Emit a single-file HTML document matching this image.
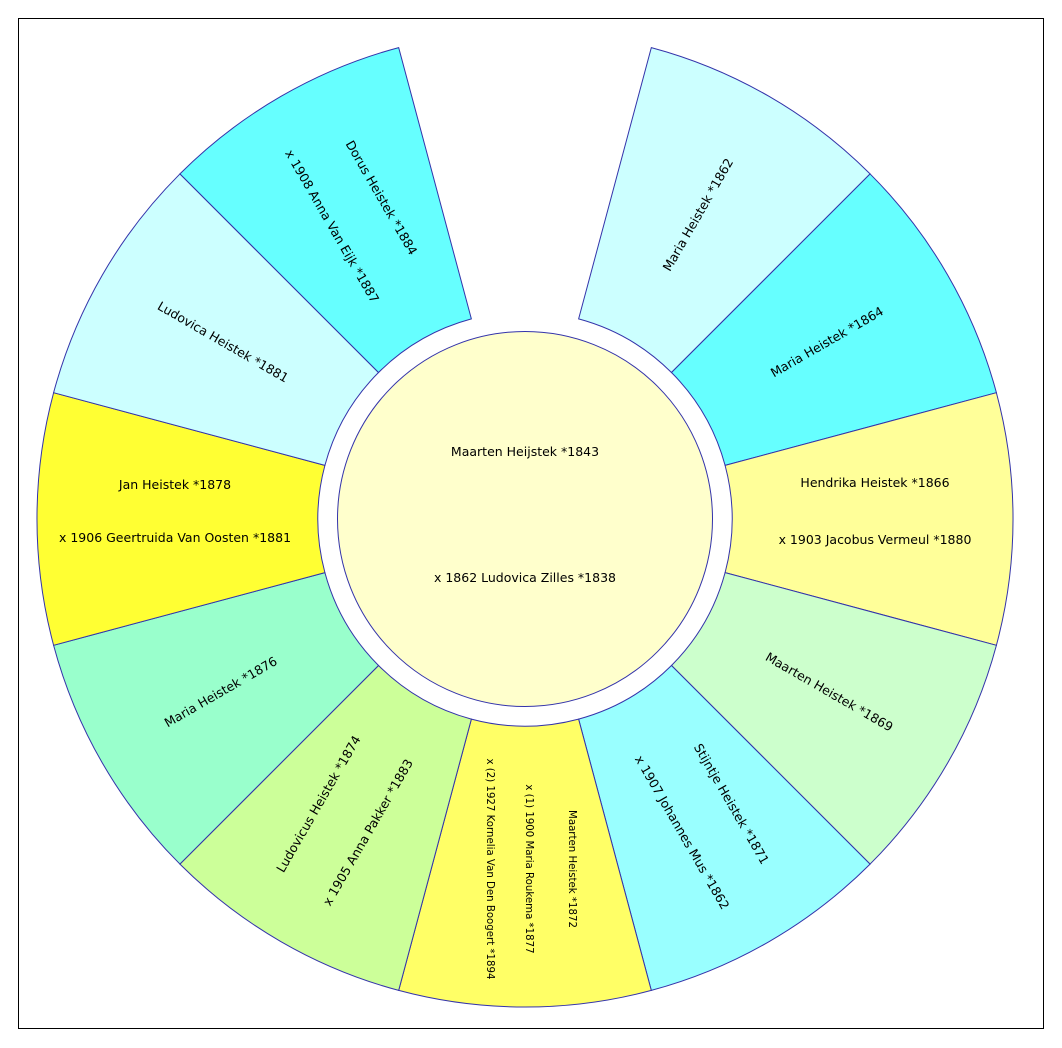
<!DOCTYPE html>
<html><head><meta charset="utf-8"><style>
html,body{margin:0;padding:0;background:#fff;}
svg{display:block;}
text{font-family:"DejaVu Sans","Liberation Sans",sans-serif;font-size:12.5px;fill:#000;}
.s{fill-opacity:1;stroke:#3333aa;stroke-width:1;}
</style></head><body>
<svg width="1062" height="1048" viewBox="0 0 1062 1048" xmlns="http://www.w3.org/2000/svg">
<rect x="18.5" y="18.5" width="1025" height="1010" fill="#fff" stroke="#000" stroke-width="1"/>
<defs>
<path id="sec" d="M471.4,318.9 L398.7,47.6 A488,488 0 0 1 651.3,47.6 L578.6,318.9 A208,208 0 0 0 471.4,318.9 Z"/>
</defs>
<circle cx="525" cy="519" r="187.5" fill="#ffffcc" stroke="#3333aa"/>
<text x="525" y="456" text-anchor="middle">Maarten Heijstek *1843</text>
<text x="525" y="582" text-anchor="middle">x 1862 Ludovica Zilles *1838</text>

<g transform="rotate(30,525,519)"><use href="#sec" class="s" fill="#ccffff"/>
<text transform="rotate(-90,525,169)" x="525" y="171" text-anchor="middle">Maria Heistek *1862</text></g>

<g transform="rotate(60,525,519)"><use href="#sec" class="s" fill="#66ffff"/>
<text transform="rotate(-90,525,169)" x="525" y="171" text-anchor="middle">Maria Heistek *1864</text></g>

<g transform="rotate(90,525,519)"><use href="#sec" class="s" fill="#ffff99"/>
<g transform="rotate(-90,525,169)"><text x="525" y="137" text-anchor="middle">Hendrika Heistek *1866</text>
<text x="525" y="194" text-anchor="middle">x 1903 Jacobus Vermeul *1880</text></g></g>

<g transform="rotate(120,525,519)"><use href="#sec" class="s" fill="#ccffcc"/>
<text transform="rotate(-90,525,169)" x="525" y="171" text-anchor="middle">Maarten Heistek *1869</text></g>

<g transform="rotate(150,525,519)"><use href="#sec" class="s" fill="#99ffff"/>
<g transform="rotate(-90,525,169)"><text x="525" y="137" text-anchor="middle">Stijntje Heistek *1871</text>
<text x="525" y="194" text-anchor="middle">x 1907 Johannes Mus *1862</text></g></g>

<g transform="rotate(180,525,519)"><use href="#sec" class="s" fill="#ffff66"/>
<g transform="rotate(-90,525,169)"><text x="525" y="125" text-anchor="middle" style="font-size:10.2px">Maarten Heistek *1872</text>
<text x="525" y="168" text-anchor="middle" style="font-size:10.2px">x (1) 1900 Maria Roukema *1877</text>
<text x="525" y="207" text-anchor="middle" style="font-size:10.2px">x (2) 1927 Kornelia Van Den Boogert *1894</text></g></g>

<g transform="rotate(210,525,519)"><use href="#sec" class="s" fill="#ccff99"/>
<g transform="rotate(90,525,169)"><text x="525" y="137" text-anchor="middle">Ludovicus Heistek *1874</text>
<text x="525" y="194" text-anchor="middle">x 1905 Anna Pakker *1883</text></g></g>

<g transform="rotate(240,525,519)"><use href="#sec" class="s" fill="#99ffcc"/>
<text transform="rotate(90,525,169)" x="525" y="171" text-anchor="middle">Maria Heistek *1876</text></g>

<g transform="rotate(270,525,519)"><use href="#sec" class="s" fill="#ffff33"/>
<g transform="rotate(90,525,169)"><text x="525" y="139" text-anchor="middle">Jan Heistek *1878</text>
<text x="525" y="192" text-anchor="middle">x 1906 Geertruida Van Oosten *1881</text></g></g>

<g transform="rotate(300,525,519)"><use href="#sec" class="s" fill="#ccffff"/>
<text transform="rotate(90,525,169)" x="525" y="171" text-anchor="middle">Ludovica Heistek *1881</text></g>

<g transform="rotate(330,525,519)"><use href="#sec" class="s" fill="#66ffff"/>
<g transform="rotate(90,525,169)"><text x="525" y="137" text-anchor="middle">Dorus Heistek *1884</text>
<text x="525" y="194" text-anchor="middle">x 1908 Anna Van Eijk *1887</text></g></g>
</svg>
</body></html>
